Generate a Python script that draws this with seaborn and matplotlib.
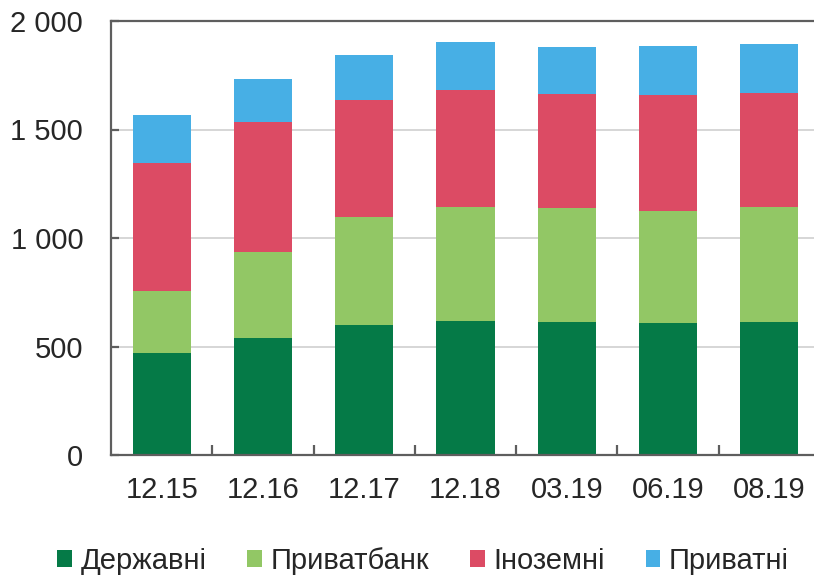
import numpy as np
import pandas as pd
import matplotlib
matplotlib.use("Agg")
import matplotlib.pyplot as plt
import seaborn as sns
from matplotlib.patches import Patch
from matplotlib.ticker import FixedLocator, FuncFormatter

categories = ["12.15", "12.16", "12.17", "12.18", "03.19", "06.19", "08.19"]
state = [468, 541, 601, 618, 615, 607, 615]
privatbank = [290, 395, 495, 523, 523, 518, 526]
foreign = [587, 597, 542, 541, 526, 534, 527]
private = [222, 198, 206, 223, 218, 226, 225]
series_names = ["Державні", "Приватбанк", "Іноземні", "Приватні"]
colors = ["#057A47", "#92C765", "#DC4B64", "#47AFE5"]

sns.set_theme(style="white")
plt.rcParams['font.family'] = ['Liberation Sans', 'DejaVu Sans']

fig = plt.figure(figsize=(8.14, 5.77), dpi=100)
ax = fig.add_axes([111/814, 1-455/577, (820-111)/814, (455-21)/577])

series = [state, privatbank, foreign, private]
cum = np.cumsum(np.array(series), axis=0)
df = pd.DataFrame({"cat": categories})
for i in range(3, -1, -1):
    df["v"] = cum[i]
    sns.barplot(data=df, x="cat", y="v", color=colors[i], saturation=1,
                width=0.573, linewidth=0, ax=ax, zorder=2)

ax.set_ylim(0, 2000)
ax.set_xlim(-0.5, len(categories) - 0.5)
ax.set_xlabel("")
ax.set_ylabel("")
ax.set_yticks([0, 500, 1000, 1500, 2000])
ax.yaxis.set_major_formatter(FuncFormatter(lambda v, p: f"{int(v):,}".replace(",", " ")))
ax.grid(axis="y", color="#D0D0D0", linewidth=1.2, zorder=0)
ax.set_axisbelow(True)

for s in ["left", "bottom", "top", "right"]:
    ax.spines[s].set_color("#5E5E5E")
    ax.spines[s].set_linewidth(1.6)
ax.spines["right"].set_visible(False)

ax.tick_params(axis="y", which="major", direction="in", length=6, width=1.6,
               color="#5E5E5E", labelsize=21, pad=20, left=True)
ax.tick_params(axis="x", which="major", length=0, labelsize=21, pad=15)
ax.xaxis.set_minor_locator(FixedLocator(np.arange(0.5, len(categories) - 0.5, 1)))
ax.tick_params(axis="x", which="minor", direction="in", length=7, width=1.6,
               color="#5E5E5E", bottom=True)

handles = [Patch(facecolor=c, edgecolor="none", label=n) for c, n in zip(colors, series_names)]
fig.legend(handles=handles, loc="center", bbox_to_anchor=(423/814, 1-561/577), ncol=4,
           frameon=False, fontsize=21, handlelength=0.5, handleheight=0.5,
           handletextpad=0.3, columnspacing=1.4, borderpad=0)

fig.savefig("out.png", dpi=100)
